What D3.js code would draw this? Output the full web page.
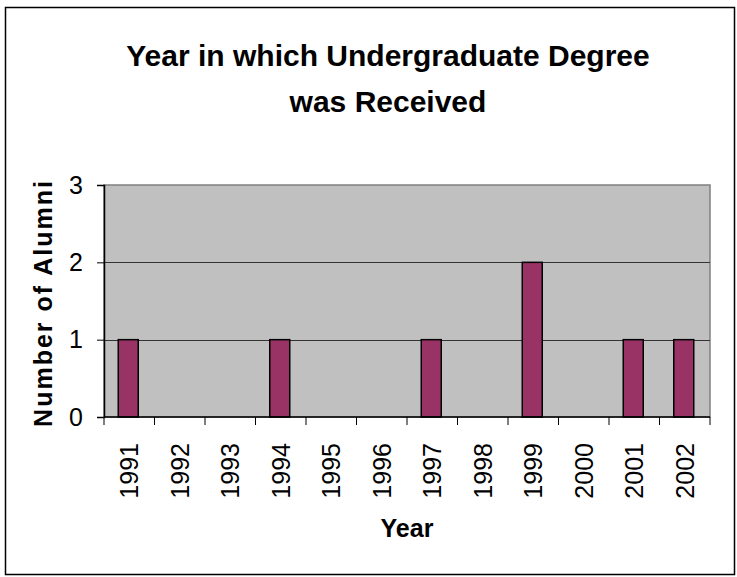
<!DOCTYPE html>
<html>
<head>
<meta charset="utf-8">
<script src="https://cdn.jsdelivr.net/npm/d3@7"></script>
<style>
  body { margin: 0; background: #fff; }
  text { font-family: "Liberation Sans", Arial, sans-serif; }
</style>
</head>
<body>
<div id="chart"></div>
<script>
var years = ["1991", "1992", "1993", "1994", "1995", "1996", "1997", "1998", "1999", "2000", "2001", "2002"];
var alumni = [1, 0, 0, 1, 0, 0, 1, 0, 2, 0, 1, 1];
var yTicks = [0, 1, 2, 3];

(function() {
  var W = 737, H = 577;
  var margin = { top: 185, left: 104, right: 27, bottom: 160 },
    width = W - margin.left - margin.right,
    height = H - margin.top - margin.bottom;

  var root = d3.select("#chart").append("svg")
    .attr("width", W)
    .attr("height", H);

  // outer frame
  root.append("rect")
    .attr("x", 5.5).attr("y", 7.5)
    .attr("width", W - 8).attr("height", H - 10)
    .attr("fill", "#fff")
    .attr("stroke", "#000")
    .attr("stroke-width", 1.5);

  root.append("text")
    .attr("x", 388).attr("y", 66)
    .attr("text-anchor", "middle")
    .attr("font-size", 30).attr("font-weight", "bold")
    .text("Year in which Undergraduate Degree");
  root.append("text")
    .attr("x", 388).attr("y", 112)
    .attr("text-anchor", "middle")
    .attr("font-size", 30).attr("font-weight", "bold")
    .text("was Received");

  var svg = root.append("g")
    .attr("transform", "translate(" + margin.left + "," + margin.top + ")");

  var x = d3.scaleBand().domain(years).range([0, width]).paddingInner(0).paddingOuter(0);
  var y = d3.scaleLinear().domain([0, 3]).range([height, 0]);

  svg.append("rect")
    .attr("width", width).attr("height", height)
    .attr("fill", "#c0c0c0")
    .attr("stroke", "#808080")
    .attr("stroke-width", 1.5);

  svg.selectAll(".grid")
    .data(yTicks.filter(function(d) { return d > 0 && d < 3; }))
    .enter().append("line")
    .attr("class", "grid")
    .attr("x1", 0).attr("x2", width)
    .attr("y1", function(d) { return Math.round(y(d)) + 0.5; })
    .attr("y2", function(d) { return Math.round(y(d)) + 0.5; })
    .attr("stroke", "#333")
    .attr("stroke-width", 1);

  var bw = 20;
  svg.selectAll(".bar")
    .data(alumni.map(function(v, i) { return { year: years[i], v: v }; }).filter(function(d) { return d.v > 0; }))
    .enter().append("rect")
    .attr("class", "bar")
    .attr("x", function(d) { return x(d.year) + x.bandwidth() / 2 - bw / 2 - 1; })
    .attr("y", function(d) { return y(d.v); })
    .attr("width", bw)
    .attr("height", function(d) { return height - y(d.v); })
    .attr("fill", "#993366")
    .attr("stroke", "#000")
    .attr("stroke-width", 1.5);

  // x axis with ticks at category boundaries
  var xAxis = svg.append("g").attr("transform", "translate(0," + height + ")");
  xAxis.append("line").attr("x1", 0).attr("x2", width).attr("stroke", "#000").attr("stroke-width", 1.5);
  xAxis.selectAll(".xt")
    .data(years.concat(["end"]))
    .enter().append("line")
    .attr("x1", function(d, i) { return i * x.step(); })
    .attr("x2", function(d, i) { return i * x.step(); })
    .attr("y1", 0).attr("y2", 8)
    .attr("stroke", "#000");
  xAxis.selectAll(".xl")
    .data(years)
    .enter().append("text")
    .attr("transform", function(d) {
      return "translate(" + (x(d) + x.bandwidth() / 2 + 9) + ",26) rotate(-90)";
    })
    .attr("text-anchor", "end")
    .attr("font-size", 25)
    .text(function(d) { return d; });

  // y axis
  var yAxis = d3.axisLeft(y).tickValues(yTicks).tickSize(7).tickPadding(14).tickFormat(d3.format("d"));
  svg.append("g")
    .attr("class", "axis y-axis")
    .call(yAxis)
    .call(function(g) {
      g.select(".domain").attr("stroke", "#000").attr("stroke-width", 1.5);
      g.selectAll("text").attr("font-size", 25).attr("fill", "#000")
        .style("font-family", "'Liberation Sans', Arial, sans-serif");
    });

  root.append("text")
    .attr("transform", "translate(52,303) rotate(-90)")
    .attr("text-anchor", "middle")
    .attr("font-size", 25).attr("font-weight", "bold")
    .attr("letter-spacing", 2)
    .text("Number of Alumni");

  root.append("text")
    .attr("x", 407).attr("y", 537)
    .attr("text-anchor", "middle")
    .attr("font-size", 25).attr("font-weight", "bold")
    .text("Year");
})();
</script>
</body>
</html>
